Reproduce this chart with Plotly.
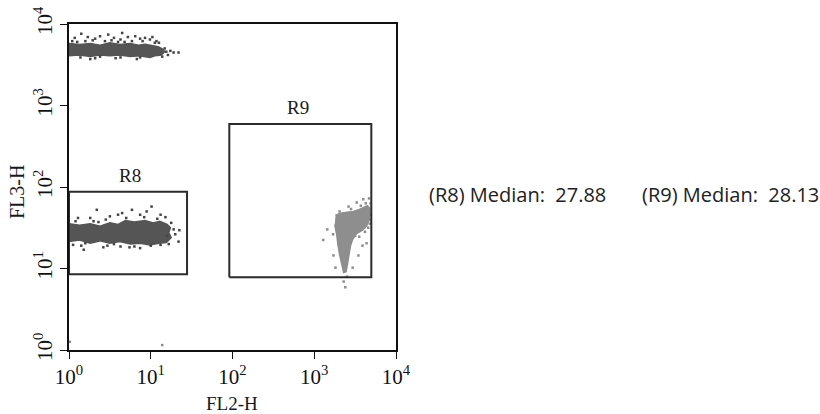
import numpy as np
import plotly.graph_objects as go

# ---------------- data (log10 decades of FL2-H / FL3-H) ----------------
# dense core outlines of each population
top_core_lx = [0, 0.13, 0.26, 0.38, 0.50, 0.62, 0.75, 0.85, 0.93, 1.02, 1.09, 1.15, 1.17, 1.13, 1.05, 0.99, 0.86, 0.75, 0.62, 0.50, 0.38, 0.26, 0.13, 0]
top_core_ly = [3.76, 3.75, 3.76, 3.74, 3.77, 3.75, 3.76, 3.74, 3.75, 3.73, 3.72, 3.69, 3.66, 3.62, 3.61, 3.59, 3.61, 3.60, 3.62, 3.61, 3.62, 3.60, 3.62, 3.61]

r8_core_lx = [0, 0.13, 0.26, 0.38, 0.50, 0.60, 0.69, 0.80, 0.93, 1.03, 1.11, 1.20, 1.24, 1.22, 1.25, 1.19, 1.10, 0.99, 0.87, 0.75, 0.62, 0.50, 0.38, 0.26, 0.13, 0]
r8_core_ly = [1.55, 1.53, 1.55, 1.52, 1.56, 1.54, 1.59, 1.57, 1.59, 1.56, 1.58, 1.54, 1.50, 1.44, 1.38, 1.32, 1.31, 1.29, 1.31, 1.30, 1.33, 1.31, 1.34, 1.31, 1.35, 1.33]

r9_core_lx = [3.260, 3.321, 3.407, 3.480, 3.540, 3.600, 3.650, 3.680, 3.675, 3.640, 3.590, 3.517, 3.468, 3.444, 3.425, 3.410, 3.390, 3.360, 3.335, 3.310, 3.290, 3.275, 3.250]
r9_core_ly = [1.654, 1.679, 1.691, 1.700, 1.720, 1.750, 1.770, 1.740, 1.600, 1.520, 1.470, 1.427, 1.354, 1.281, 1.170, 1.048, 0.960, 0.950, 1.048, 1.170, 1.293, 1.415, 1.538]

# sparse events around the cores
top_dots_lx = [0.07, 0.15, 0.23, 0.32, 0.38, 0.48, 0.55, 0.63, 0.65, 0.72, 0.81, 0.87, 0.93, 0.99, 1.02,
               1.07, 1.10, 0.04, 0.20, 0.44, 0.60, 0.77, 1.19, 1.24, 1.28, 1.34, 1.14, 1.21, 0.26, 0.32,
               0.38, 0.63, 0.87, 0.14, 0.10, 0.29, 0.52, 0.68, 0.90, 1.05, 1.17, 0.57, 0.83]
top_dots_ly = [3.83, 3.88, 3.84, 3.82, 3.85, 3.87, 3.83, 3.81, 3.89, 3.84, 3.85, 3.82, 3.83, 3.81, 3.84,
               3.79, 3.77, 3.79, 3.79, 3.79, 3.78, 3.79, 3.66, 3.67, 3.65, 3.65, 3.60, 3.62, 3.57, 3.58,
               3.60, 3.59, 3.59, 3.59, 3.78, 3.80, 3.80, 3.78, 3.79, 3.77, 3.70, 3.58, 3.57]

r8_dots_lx = [0.34, 0.77, 1.01, 0.65, 0.87, 1.12, 0.26, 0.11, 0.50, 1.28, 1.34, 1.20, 0.18, 0.63, 1.12,
              0.87, 0.42, 0.05, 1.30, 1.25, 1.35, 0.30, 0.45, 0.60, 0.95, 1.18, 0.20, 0.55, 0.80, 1.00, 1.22,
              0.08, 0.36, 0.70, 0.92, 1.08, 0.15, 0.47, 0.74]
r8_dots_ly = [1.72, 1.72, 1.76, 1.68, 1.66, 1.66, 1.62, 1.62, 1.64, 1.48, 1.33, 1.40, 1.23, 1.27, 1.29,
              1.25, 1.26, 1.29, 1.42, 1.56, 1.47, 1.58, 1.60, 1.66, 1.70, 1.63, 1.31, 1.30, 1.27, 1.28, 1.30,
              1.58, 1.57, 1.62, 1.63, 1.61, 1.28, 1.28, 1.26]

r9_dots_lx = [3.16, 3.11, 3.235, 3.59, 3.54, 3.47, 3.38, 3.64, 3.52, 3.42, 3.26, 3.36, 3.60, 3.50, 3.67,
              3.45, 3.31, 3.23, 3.40, 3.69, 3.68, 3.66, 3.63, 3.69, 3.62, 3.57, 3.55, 3.68]
r9_dots_ly = [1.48, 1.35, 1.16, 1.28, 1.16, 1.01, 0.77, 1.31, 1.81, 1.76, 1.01, 0.84, 1.85, 1.40, 1.86,
              1.73, 1.70, 1.42, 0.90, 1.80, 1.55, 1.50, 1.80, 1.66, 1.45, 1.77, 1.39, 1.60]

stray_lx = [0.01, 1.14]
stray_ly = [0.10, 0.06]

# gates (data units)
gate_names = ["R8", "R9"]
gate_x0 = [1.0, 91.4]
gate_x1 = [27.8, 4990.0]
gate_y0 = [8.5, 7.8]
gate_y1 = [87.6, 593.0]
gate_label_x = [5.6, 640.0]
gate_label_y = [138.0, 935.0]

medians = [27.88, 28.13]

tick_vals = [1, 10, 100, 1000, 10000]
tick_text = ["10<sup>0</sup>", "10<sup>1</sup>", "10<sup>2</sup>", "10<sup>3</sup>", "10<sup>4</sup>"]

# ---------------- figure ----------------
dark = "#444444"
dark_fill = "#555555"
light = "#8e8e8e"
SERIF = "Liberation Serif, Times New Roman, serif"

def p10(a):
    return list(10 ** np.array(a, dtype=float))

fig = go.Figure()

for lx, ly, col in [(top_core_lx, top_core_ly, dark_fill), (r8_core_lx, r8_core_ly, dark_fill),
                    (r9_core_lx, r9_core_ly, light)]:
    fig.add_trace(go.Scatter(x=p10(lx), y=p10(ly), mode="lines", fill="toself",
                             fillcolor=col, line=dict(color=col, width=1.5),
                             hoverinfo="skip", showlegend=False))

for lx, ly, col in [(top_dots_lx, top_dots_ly, dark), (r8_dots_lx, r8_dots_ly, dark),
                    (r9_dots_lx, r9_dots_ly, light), (stray_lx, stray_ly, light)]:
    fig.add_trace(go.Scatter(x=p10(lx), y=p10(ly), mode="markers",
                             marker=dict(symbol="square", size=2.5, color=col, line=dict(width=0)),
                             hoverinfo="skip", showlegend=False))

for i, name in enumerate(gate_names):
    fig.add_trace(go.Scatter(
        x=[gate_x0[i], gate_x1[i], gate_x1[i], gate_x0[i], gate_x0[i]],
        y=[gate_y0[i], gate_y0[i], gate_y1[i], gate_y1[i], gate_y0[i]],
        mode="lines", line=dict(color="#2b2b2b", width=2),
        hoverinfo="skip", showlegend=False))
    fig.add_annotation(x=np.log10(gate_label_x[i]), y=np.log10(gate_label_y[i]),
                       xref="x", yref="y", text=name, showarrow=False,
                       xanchor="center", yanchor="middle",
                       font=dict(family=SERIF, size=19, color="#1a1a1a"))

axis_common = dict(type="log", range=[0, 4], tickvals=tick_vals, ticktext=tick_text,
                   ticks="outside", ticklen=7, tickwidth=1.2, tickcolor="#111",
                   showline=True, linecolor="#111", linewidth=1.5, mirror=True,
                   showgrid=False, zeroline=False, automargin=False,
                   tickfont=dict(family=SERIF, size=21, color="#111"))

fig.update_xaxes(**axis_common)
fig.update_yaxes(**axis_common, tickangle=-90)

# axis titles
fig.add_annotation(text="FL2-H", showarrow=False, xref="paper", yref="paper",
                   x=(232 - 69) / 327, y=(350 - 403) / 326, xanchor="center", yanchor="middle",
                   borderpad=0, font=dict(family=SERIF, size=19, color="#1a1a1a"))
fig.add_annotation(text="FL3-H", showarrow=False, textangle=-90,
                   xref="paper", yref="paper", x=(17 - 69) / 327, y=(350 - 192) / 326,
                   xanchor="center", yanchor="middle",
                   font=dict(family=SERIF, size=20, color="#1a1a1a"))

for i, name in enumerate(gate_names):
    fig.add_annotation(text=f"({name}) Median:\u00a0 {medians[i]:.2f}", showarrow=False,
                       xref="paper", yref="paper", x=[(427 - 69) / 327, (640 - 69) / 327][i],
                       y=(350 - 194) / 326, xanchor="left", yanchor="middle",
                       font=dict(family="Open Sans, Noto Sans, sans-serif", size=20, color="#222"))

fig.update_layout(width=820, height=414, margin=dict(l=69, r=424, t=24, b=64),
                  plot_bgcolor="white", paper_bgcolor="white")

fig.write_html("out.html")
